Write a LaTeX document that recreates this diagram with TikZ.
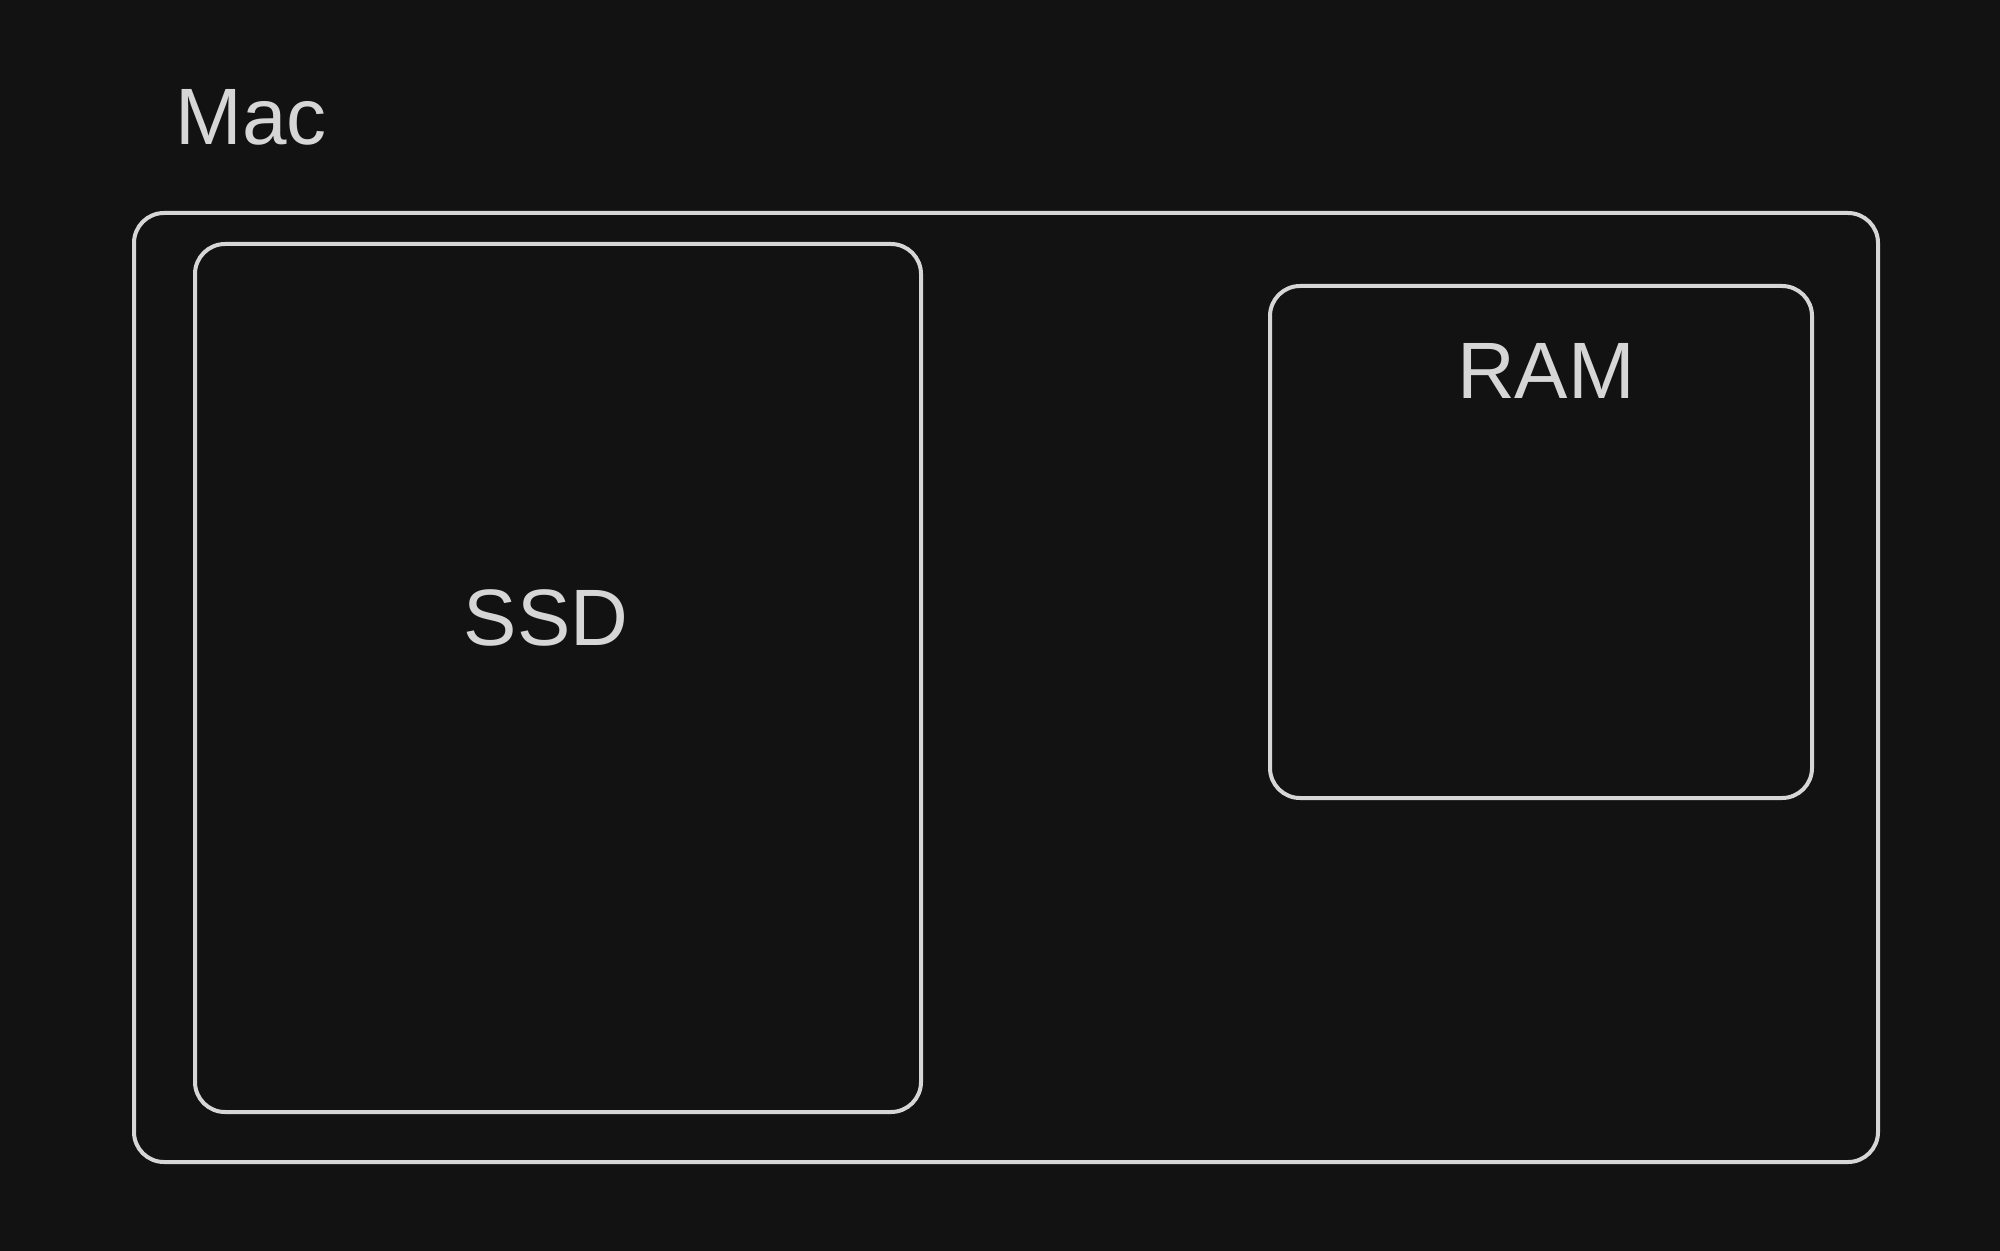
\documentclass[tikz,border=0pt]{standalone}
\usepackage{fontspec}
\setmainfont{Liberation Sans}
\definecolor{bg}{HTML}{121212}
\definecolor{ink}{HTML}{D6D6D6}
\begin{document}
\begin{tikzpicture}[x=0.5pt,y=-0.5pt,
  box/.style={draw=ink,line width=2pt,rounded corners=15pt},
  lbl/.style={text=ink,font=\fontsize{40}{48}\selectfont,inner sep=0pt}]
\fill[bg] (0,0) rectangle (2000,1251);
\useasboundingbox (0,0) rectangle (2000,1251);
\draw[box] (134,213) rectangle (1878,1162);
\coordinate (outer) at (134,213);
\node[box,minimum width=363pt,minimum height=434pt,inner sep=0pt] (ssd) at (558,678) {};
\node[box,minimum width=271pt,minimum height=256pt,inner sep=0pt] (ram) at (1541,542) {};
\node[lbl,anchor=base west] (mac) at (175,145) {Mac};
\node[lbl,anchor=base] (ssdl) at (546,645) {SSD};
\node[lbl,anchor=base] (raml) at (1546,398) {RAM};
\end{tikzpicture}
\end{document}
